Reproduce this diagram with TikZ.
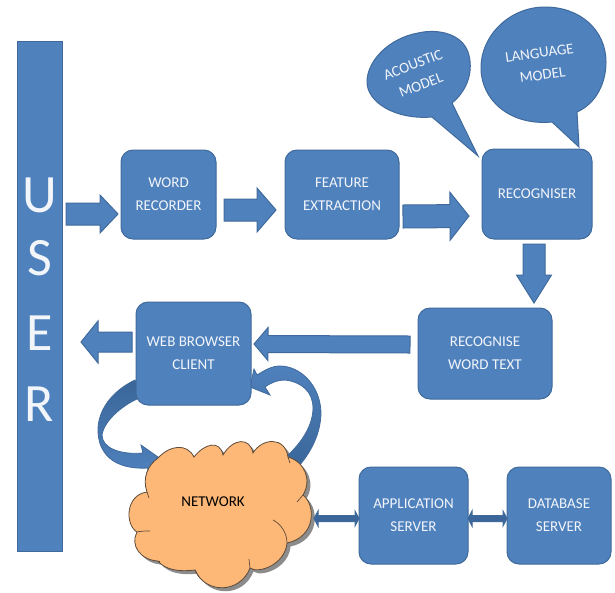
\documentclass[tikz,border=0pt]{standalone}
\usepackage{fontspec}
\setmainfont{Carlito}
\usetikzlibrary{calc}
\definecolor{bluefill}{HTML}{4F81BD}
\definecolor{blueedge}{HTML}{406A9C}
\definecolor{bluedark}{HTML}{3A6699}
\definecolor{cloudfill}{HTML}{FDB877}
\definecolor{cloudedge}{HTML}{5E4A38}
\definecolor{cloudshadow}{HTML}{8C8C8C}
\definecolor{textwhite}{HTML}{F2F5FA}
\pgfdeclarelayer{bg}
\pgfsetlayers{bg,main}
\tikzset{
  x=1pt,y=-1pt,
  box/.style={draw=blueedge,fill=bluefill,line width=1pt,rounded corners=12pt,
    align=center,text=textwhite,inner sep=0pt,outer sep=0pt,
    font=\fontsize{15}{23}\selectfont},
  userbar/.style={draw=blueedge,fill=bluefill,line width=1pt,inner sep=0pt,outer sep=0pt},
  userletter/.style={text=textwhite,inner sep=0pt,font=\fontsize{54}{54}\selectfont},
  arrowbody/.style={draw=blueedge,fill=bluefill,line width=1pt,line join=miter},
  bubble/.style={draw=blueedge,fill=bluefill,line width=1pt,line join=miter},
  bubbletext/.style={align=center,text=textwhite,inner sep=0pt,
    font=\fontsize{15}{22}\selectfont},
  curved/.style={draw=blueedge,line width=.8pt,line join=miter},
  cloudshape/.style={fill=cloudfill,draw=cloudedge,line width=.8pt},
  crease/.style={draw=cloudedge,line width=.7pt},
}
% from, to, body half width, head half width, head length
\newcommand\blockarrow[5]{%
  \coordinate (H) at ($(#2)!#5pt!(#1)$);
  \draw[arrowbody] ($(#1)!#3pt!90:(#2)$) -- ($(H)!#3pt!90:(#2)$) -- ($(H)!#4pt!90:(#2)$)
    -- (#2) -- ($(H)!#4pt!-90:(#2)$) -- ($(H)!#3pt!-90:(#2)$) -- ($(#1)!#3pt!-90:(#2)$) -- cycle;}
\newcommand\twowayarrow[5]{%
  \coordinate (H) at ($(#2)!#5pt!(#1)$);
  \coordinate (G) at ($(#1)!#5pt!(#2)$);
  \draw[arrowbody,fill=bluedark] (#1) -- ($(G)!#4pt!90:(#2)$) -- ($(G)!#3pt!90:(#2)$)
    -- ($(H)!#3pt!90:(#2)$) -- ($(H)!#4pt!90:(#2)$)
    -- (#2) -- ($(H)!#4pt!-90:(#2)$) -- ($(H)!#3pt!-90:(#2)$)
    -- ($(G)!#3pt!-90:(#2)$) -- ($(G)!#4pt!-90:(#2)$) -- cycle;}
\newcommand\cloudpath{(158,458)
  .. controls (170,445) and (187,443) .. (194,457)
  .. controls (205,443) and (220,440) .. (223,455)
  .. controls (233,438) and (250,437) .. (253,453)
  .. controls (262,438) and (285,436) .. (288,457)
  .. controls (305,462) and (312,480) .. (303,495)
  .. controls (316,505) and (316,537) .. (287,543)
  .. controls (285,565) and (258,574) .. (250,568)
  .. controls (240,594) and (205,594) .. (195,570)
  .. controls (180,572) and (165,570) .. (158,561)
  .. controls (140,560) and (130,545) .. (137,532)
  .. controls (125,525) and (125,495) .. (147,492)
  .. controls (142,478) and (148,465) .. (158,458) -- cycle}
\begin{document}
\begin{tikzpicture}
\useasboundingbox (0,0) rectangle (615,592);

% boxes
\node[userbar,minimum width=45pt,minimum height=510pt] (user) at (39.5,296) {};
\node[userletter] (lu) at (39.5,195) {U};
\node[userletter] (ls) at (39.5,258) {S};
\node[userletter] (le) at (39.5,333) {E};
\node[userletter] (lr) at (39.5,404) {R};

\node[box,minimum width=95pt,minimum height=89pt] (word) at (168.5,194.5) {WORD\\RECORDER};
\node[box,minimum width=114pt,minimum height=89pt] (feature) at (342,194.5) {FEATURE\\EXTRACTION};
\node[box,minimum width=110pt,minimum height=90pt] (recogniser) at (537,194) {RECOGNISER};
\node[box,minimum width=134pt,minimum height=91pt] (recognise) at (485,353.5) {RECOGNISE\\WORD TEXT};
\node[box,minimum width=115pt,minimum height=103pt] (web) at (193.5,353.5) {WEB BROWSER\\CLIENT};
\node[box,minimum width=109pt,minimum height=97pt] (app) at (413.5,515.5) {APPLICATION\\SERVER};
\node[box,minimum width=104pt,minimum height=97pt] (db) at (559,515.5) {DATABASE\\SERVER};

% network cloud
\begin{pgfonlayer}{bg}
  \fill[cloudshadow,shift={(3.5,3.5)}] \cloudpath;
\end{pgfonlayer}
\draw[cloudshape] \cloudpath;
\node[inner sep=0pt,text=black,font=\fontsize{15}{18}\selectfont] (network) at (213,502) {NETWORK};
\draw[crease] (137,532) .. controls (141,531) and (146,531) .. (150,531);
\draw[crease] (147,492) -- (149,498);
\draw[crease] (303,495) -- (297,502);
\draw[crease] (287,543) .. controls (287,533) and (281,524) .. (273,520);
\draw[crease] (250,568) -- (249,559);
\draw[crease] (195,570) -- (199,577);
\draw[crease] (158,561) -- (160,561);
\draw[crease] (288,457) -- (290,463);

% curved arrows, behind the browser box and the cloud
\begin{pgfonlayer}{bg}
  \shade[curved,top color=bluedark,middle color=bluedark,bottom color=bluefill]
    (135,380) .. controls (112,391) and (98,410) .. (98,430)
    .. controls (98,452) and (112,470) .. (148,468)
    -- (147,474) -- (158,457) -- (141,445) -- (143,453)
    .. controls (120,455) and (102,448) .. (102,435)
    .. controls (104,420) and (125,403) .. (142,397) -- cycle;
  \shade[curved,top color=bluefill,middle color=bluedark,bottom color=bluedark]
    (298,467) .. controls (315,448) and (321,428) .. (321,412)
    .. controls (320,385) and (300,366) .. (280,366)
    .. controls (272,366) and (265,370) .. (257,375)
    -- (254,369) -- (250,387) -- (270,395) -- (265,387)
    .. controls (272,382) and (278,380) .. (285,380)
    .. controls (302,382) and (313,392) .. (313,408)
    .. controls (313,425) and (302,442) .. (288,455) -- cycle;
\end{pgfonlayer}

% block arrows
\coordinate (a1) at ([xshift=4pt,yshift=-19.5pt]user.east |- word.east);
\coordinate (a2) at ([xshift=-3pt,yshift=-19.5pt]word.west);
\blockarrow{a1}{a2}{11}{19}{18}
\coordinate (b1) at ([xshift=8pt,yshift=-15.5pt]word.east);
\coordinate (b2) at ([xshift=-9pt,yshift=-15.5pt]feature.west);
\blockarrow{b1}{b2}{11}{22}{19}
\coordinate (c1) at ([xshift=4pt,yshift=-22pt]feature.east);
\coordinate (c2) at ([xshift=-13pt,yshift=-22pt]recogniser.west);
\blockarrow{c1}{c2}{11.5}{24}{19}
\coordinate (d1) at ([xshift=-3pt,yshift=-5pt]recogniser.south);
\coordinate (d2) at ([xshift=49pt,yshift=5pt]recognise.north);
\blockarrow{d1}{d2}{11}{17.5}{28}
\coordinate (e1) at ([xshift=-8pt,yshift=9pt]recognise.west);
\coordinate (e2) at ([xshift=3pt,yshift=9.5pt]web.east);
\blockarrow{e1}{e2}{8.5}{16.5}{14}
\coordinate (f1) at ([xshift=-4pt,yshift=11.5pt]web.west);
\coordinate (f2) at ([xshift=19pt,yshift=11.5pt]user.east |- web.west);
\blockarrow{f1}{f2}{10}{21}{17}
\coordinate (g1) at ([xshift=0pt,yshift=-3pt]app.west -| 314,0);
\coordinate (g2) at ([yshift=-3pt]app.west);
\twowayarrow{g1}{g2}{3}{7.5}{4}
\coordinate (h1) at ([yshift=-3pt]app.east);
\coordinate (h2) at ([yshift=-3pt]db.west);
\twowayarrow{h1}{h2}{3}{7.5}{4}

% speech bubbles
\coordinate (acoustictip) at (478,156);
\coordinate (languagetip) at (579,147);
\draw[bubble] (452,103)
  .. controls (468,90) and (474,70) .. (468,52)
  .. controls (462,35) and (440,28) .. (418,33)
  .. controls (390,38) and (367,60) .. (367,82)
  .. controls (367,102) and (395,120) .. (432,117)
  -- (acoustictip) -- cycle;
\node[bubbletext,rotate=21] (acoustic) at (417,75) {ACOUSTIC\\MODEL};
\draw[bubble] (577,112)
  .. controls (597,103) and (606,82) .. (606,62)
  .. controls (606,30) and (580,7) .. (545,7)
  .. controls (510,7) and (481,35) .. (481,68)
  .. controls (481,100) and (510,126) .. (552,122)
  -- (languagetip) -- cycle;
\node[bubbletext,rotate=8] (language) at (541,64) {LANGUAGE\\MODEL};
\end{tikzpicture}
\end{document}
